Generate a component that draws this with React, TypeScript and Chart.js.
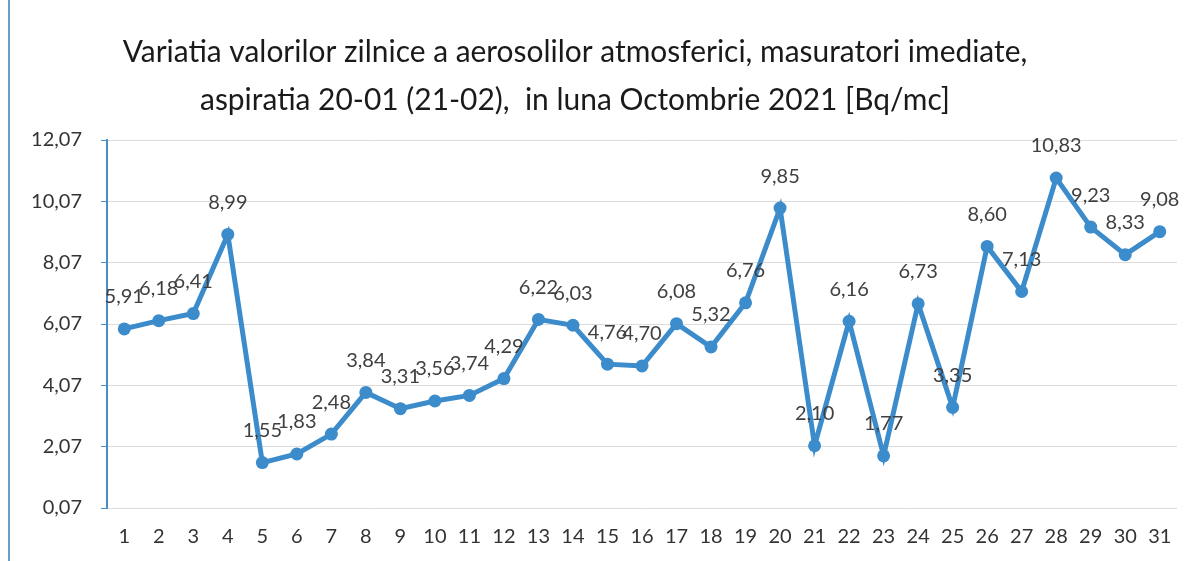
import React, { useEffect, useRef } from "react";
import { Chart, registerables } from "chart.js";

Chart.register(...registerables);

const days: string[] = Array.from({ length: 31 }, (_, i) => String(i + 1));
const values: number[] = [
  5.91, 6.18, 6.41, 8.99, 1.55, 1.83, 2.48, 3.84, 3.31, 3.56, 3.74, 4.29, 6.22, 6.03, 4.76, 4.7,
  6.08, 5.32, 6.76, 9.85, 2.1, 6.16, 1.77, 6.73, 3.35, 8.6, 7.13, 10.83, 9.23, 8.33, 9.08,
];
const yMin = 0.07;
const yMax = 12.07;
const yStep = 2;
const titleLines: string[] = [
  "Variatia valorilor zilnice a aerosolilor atmosferici, masuratori imediate,",
  "aspiratia 20-01 (21-02),  in luna Octombrie 2021 [Bq/mc]",
];

const FONT = "Lato, 'Open Sans', sans-serif";
const LINE = "#3c8ccc";
const fmt = (v: number) => v.toFixed(2).replace(".", ",");

export default function App() {
  const ref = useRef<HTMLCanvasElement>(null);
  useEffect(() => {
    if (!ref.current) return;
    const titlePlugin = {
      id: "titleDraw",
      afterDraw(chart: any) {
        const ctx = chart.ctx;
        ctx.save();
        ctx.font = `${"24px"} ${FONT}`;
        const w = ctx.measureText(titleLines[0]).width;
        const size = (24 * 905) / w;
        ctx.font = `${size}px ${FONT}`;
        ctx.fillStyle = "#1a1a1a";
        ctx.textAlign = "center";
        ctx.textBaseline = "middle";
        ctx.fillText(titleLines[0], 575, 52);
        ctx.fillText(titleLines[1], 575, 100);
        ctx.restore();
      },
    };
    const labelPlugin = {
      id: "dataLabels",
      afterDatasetsDraw(chart: any) {
        const ctx = chart.ctx;
        const meta = chart.getDatasetMeta(0);
        ctx.save();
        ctx.font = `20px ${FONT}`;
        ctx.fillStyle = "#404040";
        ctx.textAlign = "center";
        ctx.textBaseline = "middle";
        meta.data.forEach((pt: any, i: number) => {
          ctx.fillText(fmt(values[i]), pt.x, pt.y - 32);
        });
        ctx.restore();
      },
    };
    const borderPlugin = {
      id: "frame",
      beforeDraw(chart: any) {
        const ctx = chart.ctx;
        ctx.save();
        ctx.fillStyle = "#ffffff";
        ctx.fillRect(0, 0, chart.width, chart.height);
        ctx.strokeStyle = "#6d9cc4";
        ctx.lineWidth = 2;
        ctx.beginPath();
        ctx.moveTo(9, 0);
        ctx.lineTo(9, chart.height);
        ctx.stroke();
        ctx.restore();
      },
    };
    const chart = new Chart(ref.current, {
      type: "line",
      data: {
        labels: days,
        datasets: [
          {
            data: values,
            borderColor: LINE,
            backgroundColor: LINE,
            borderWidth: 5,
            pointRadius: 6.5,
            pointBorderWidth: 0,
            pointBackgroundColor: LINE,
            tension: 0,
          },
        ],
      },
      options: {
        animation: false,
        responsive: false,
        layout: { padding: { top: 140, right: 12, left: 0, bottom: 0 } },
        plugins: { legend: { display: false }, title: { display: false }, tooltip: { enabled: false } },
        scales: {
          x: {
            offset: true,
            grid: { display: false, drawTicks: false },
            border: { display: false },
            ticks: { font: { family: FONT, size: 20 }, color: "#333333", padding: 17, maxRotation: 0, autoSkip: false },
            afterFit(scale: any) {
              scale.height = 53;
            },
          },
          y: {
            min: yMin,
            max: yMax,
            grid: { color: "#dcdcdc", lineWidth: 1, tickLength: 6, tickColor: "#4a8cc6", drawTicks: true },
            border: { display: true, color: "#4a8cc6", width: 2 },
            ticks: {
              stepSize: yStep,
              font: { family: FONT, size: 20 },
              color: "#333333",
              padding: 19,
              callback: (v: any) => fmt(Number(v)),
            },
            afterFit(scale: any) {
              scale.width = 107;
            },
          },
        },
      },
      plugins: [borderPlugin, labelPlugin, titlePlugin],
    });
    return () => chart.destroy();
  }, []);
  return (
    <div style={{ position: "fixed", left: 0, top: 0, width: 1189, height: 561, background: "#fff" }}>
      <canvas ref={ref} width={1189} height={561} style={{ width: 1189, height: 561 }} />
    </div>
  );
}
